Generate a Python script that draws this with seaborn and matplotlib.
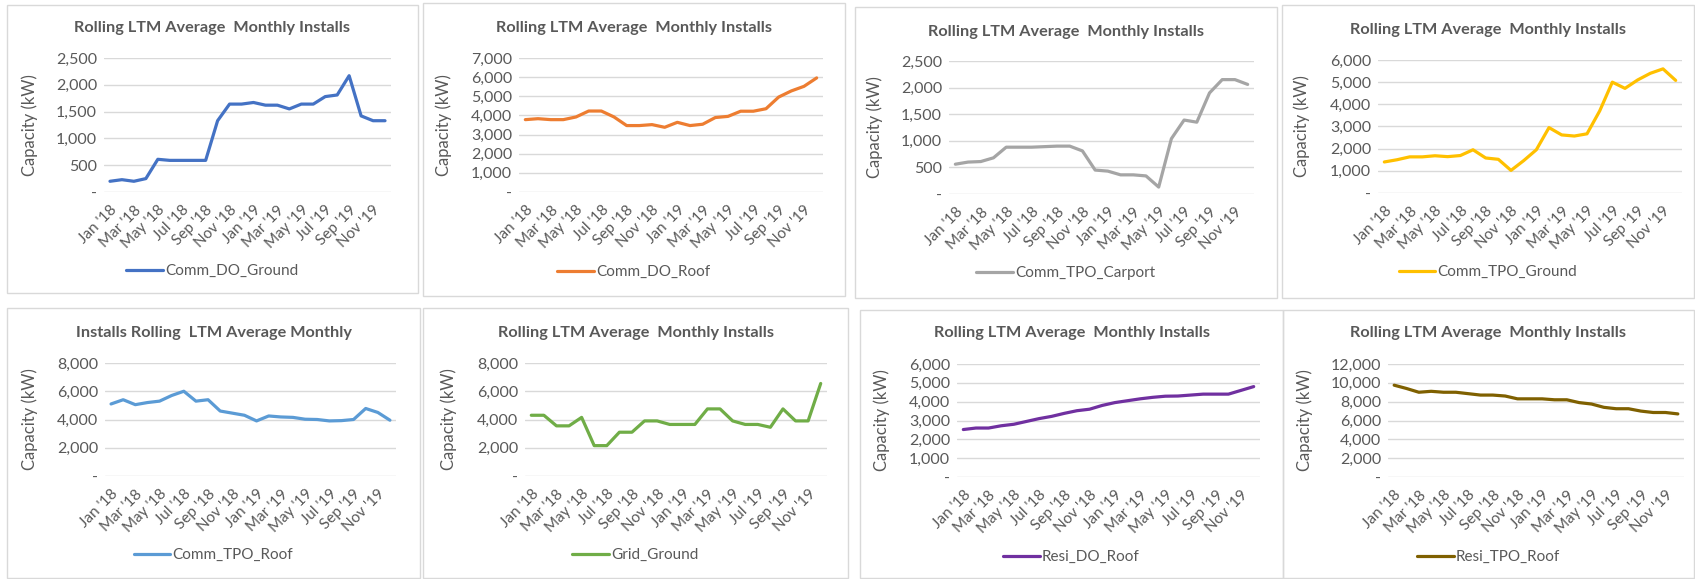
import matplotlib
matplotlib.use("Agg")
import matplotlib.pyplot as plt
import matplotlib.ticker as mticker
from matplotlib.patches import Rectangle
import seaborn as sns

# months Jan '18 .. Dec '19
months = ["Jan '18", "Feb '18", "Mar '18", "Apr '18", "May '18", "Jun '18",
          "Jul '18", "Aug '18", "Sep '18", "Oct '18", "Nov '18", "Dec '18",
          "Jan '19", "Feb '19", "Mar '19", "Apr '19", "May '19", "Jun '19",
          "Jul '19", "Aug '19", "Sep '19", "Oct '19", "Nov '19", "Dec '19"]

comm_do_ground = [200, 230, 200, 250, 610, 590, 590, 590, 590, 1330, 1640, 1640,
                  1670, 1620, 1620, 1550, 1640, 1640, 1780, 1810, 2170, 1420, 1330, 1330]
comm_do_roof = [3780, 3830, 3780, 3780, 3920, 4230, 4230, 3920, 3470, 3470, 3520, 3380,
                3640, 3470, 3540, 3890, 3950, 4220, 4220, 4350, 4960, 5280, 5520, 5960]
comm_tpo_carport = [560, 600, 610, 680, 880, 880, 880, 890, 900, 900, 810, 450,
                    430, 360, 360, 340, 130, 1040, 1390, 1350, 1900, 2150, 2150, 2060]
comm_tpo_ground = [1400, 1500, 1630, 1630, 1680, 1640, 1690, 1950, 1580, 1520, 1020, 1460,
                   1950, 2950, 2620, 2570, 2670, 3700, 5000, 4720, 5100, 5400, 5600, 5080]
comm_tpo_roof = [5100, 5400, 5050, 5200, 5300, 5700, 6000, 5300, 5400, 4600, 4450, 4300,
                 3900, 4250, 4180, 4150, 4020, 4000, 3900, 3920, 4000, 4780, 4500, 3950]
grid_ground = [4300, 4300, 3550, 3550, 4150, 2150, 2150, 3100, 3100, 3900, 3900, 3650,
               3650, 3650, 4750, 4750, 3900, 3650, 3650, 3450, 4750, 3900, 3900, 6550]
resi_do_roof = [2520, 2600, 2600, 2720, 2800, 2950, 3100, 3220, 3380, 3520, 3600, 3800,
                3950, 4050, 4150, 4230, 4290, 4300, 4350, 4400, 4400, 4400, 4600, 4800]
resi_tpo_roof = [9750, 9400, 9000, 9100, 9000, 9000, 8850, 8700, 8700, 8600, 8300, 8300,
                 8300, 8200, 8200, 7900, 7750, 7400, 7250, 7250, 7000, 6850, 6850, 6700]

series_names = ["Comm_DO_Ground", "Comm_DO_Roof", "Comm_TPO_Carport", "Comm_TPO_Ground",
                "Comm_TPO_Roof", "Grid_Ground", "Resi_DO_Roof", "Resi_TPO_Roof"]
series_values = [comm_do_ground, comm_do_roof, comm_tpo_carport, comm_tpo_ground,
                 comm_tpo_roof, grid_ground, resi_do_roof, resi_tpo_roof]
titles = ["Rolling LTM Average  Monthly Installs"] * 4 + \
         ["Installs Rolling  LTM Average Monthly"] + \
         ["Rolling LTM Average  Monthly Installs"] * 3
y_max = [2500, 7000, 2500, 6000, 8000, 8000, 6000, 12000]
y_step = [500, 1000, 500, 1000, 2000, 2000, 1000, 2000]
colors = ["#4472C4", "#ED7D31", "#A5A5A5", "#FFC000",
          "#5B9BD5", "#70AD47", "#7030A0", "#7F6000"]

# layout in pixels (top-left origin): panel box, plot area, ylabel x, title y, legend y
boxes = [(7, 5, 418, 293), (423, 3, 845, 296), (855, 7, 1277, 298), (1282, 5, 1694, 298),
         (7, 308, 420, 578), (423, 308, 848, 578), (860, 310, 1283, 578), (1283, 310, 1694, 578)]
plots = [(104, 58, 391, 192), (519, 58, 823, 192), (949, 61, 1254, 194), (1378, 60, 1682, 193),
         (105, 363, 396, 476), (525, 363, 827, 476), (957, 364, 1260, 477), (1388, 364, 1684, 477)]
ylab_x = [38, 452, 883, 1310, 38, 457, 890, 1313]
title_y = [28, 28, 32, 30, 333, 333, 333, 333]
legend_y = [271, 272, 273, 272, 555, 555, 557, 557]

W, H = 1695, 579
sns.set_theme(style="white")
plt.rcParams['font.family'] = ['Lato', 'DejaVu Sans']
text_gray = "#595959"

fig = plt.figure(figsize=(W / 100, H / 100), dpi=100)


def fx(px):
    return px / W


def fy(py):
    return 1 - py / H


def fmt_y(v, pos):
    return "-" if v == 0 else "{:,.0f}".format(v)


for i in range(8):
    bx0, by0, bx1, by1 = boxes[i]
    fig.patches.append(Rectangle((fx(bx0), fy(by1)), fx(bx1 - bx0), (by1 - by0) / H,
                                 transform=fig.transFigure, fill=False,
                                 edgecolor="#D9D9D9", linewidth=1))
    px0, py0, px1, py1 = plots[i]
    ax = fig.add_axes([fx(px0), fy(py1), fx(px1 - px0), (py1 - py0) / H])
    sns.lineplot(x=list(range(len(months))), y=series_values[i], ax=ax,
                 color=colors[i], linewidth=2.3, label=series_names[i], legend=False)
    ax.set_xlim(-0.5, len(months) - 0.5)
    ax.set_ylim(0, y_max[i])
    ax.yaxis.set_major_locator(mticker.MultipleLocator(y_step[i]))
    ax.yaxis.set_major_formatter(mticker.FuncFormatter(fmt_y))
    ax.set_xticks(range(0, len(months), 2))
    ax.set_xticklabels(months[::2], rotation=45, ha="right", rotation_mode="anchor")
    ax.tick_params(axis="both", length=0, labelsize=11.5, colors=text_gray, pad=5)
    ax.tick_params(axis="x", labelsize=11, pad=8)
    ax.grid(axis="y", color="#D9D9D9", linewidth=1)
    ax.set_axisbelow(True)
    for s in ax.spines.values():
        s.set_visible(False)
    ax.set_ylabel("Capacity (kW)", fontsize=12, color=text_gray)
    ax.yaxis.set_label_coords(fx(ylab_x[i]), fy((py0 + py1) / 2), transform=fig.transFigure)
    ax.set_xlabel("")
    cx = (bx0 + bx1) / 2
    fig.text(fx(cx), fy(title_y[i]), titles[i], ha="center", va="center",
             fontsize=11.7, fontweight="bold", color=text_gray)
    leg = ax.legend(loc="center", bbox_to_anchor=(fx(cx), fy(legend_y[i])),
                    bbox_transform=fig.transFigure, frameon=False, fontsize=11,
                    handlelength=2.4, handletextpad=0.15)
    for t in leg.get_texts():
        t.set_color(text_gray)

fig.savefig("out.png", dpi=100, facecolor="white")
